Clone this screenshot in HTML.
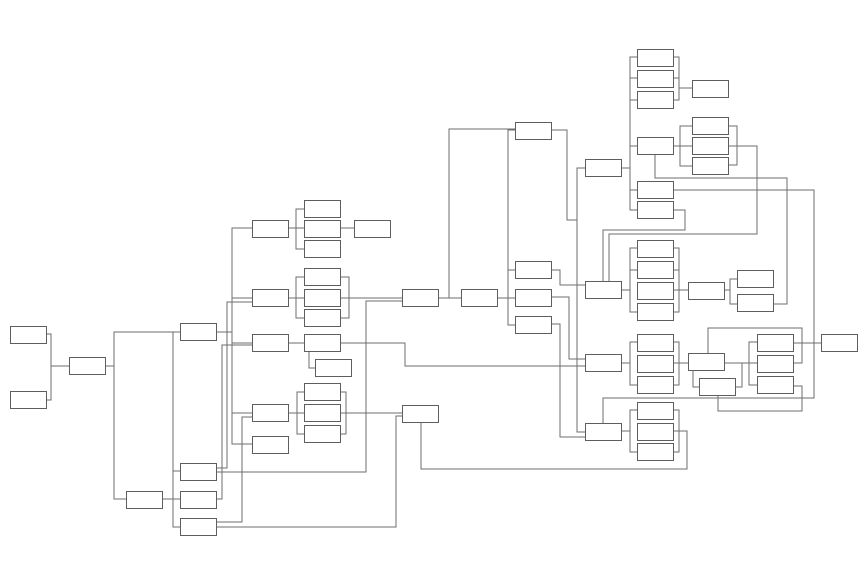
<!DOCTYPE html>
<html><head><meta charset="utf-8"><style>html,body{margin:0;padding:0;background:#fff}svg{display:block}</style></head>
<body>
<svg width="868" height="567" viewBox="0 0 868 567" xmlns="http://www.w3.org/2000/svg">
<g fill="none" stroke="#6e6e6e" stroke-width="1">
<polyline points="47,334 51,334 51,400 47,400"/>
<line x1="51" y1="366" x2="69" y2="366"/>
<line x1="106" y1="366" x2="114" y2="366"/>
<polyline points="180,332 114,332 114,499 126,499"/>
<line x1="163" y1="499" x2="180" y2="499"/>
<polyline points="180,332 173,332 173,527 180,527"/>
<line x1="173" y1="471" x2="180" y2="471"/>
<line x1="217" y1="332" x2="232" y2="332"/>
<polyline points="252,228 232,228 232,444 252,444"/>
<line x1="232" y1="298" x2="252" y2="298"/>
<line x1="232" y1="343" x2="252" y2="343"/>
<line x1="232" y1="413" x2="252" y2="413"/>
<polyline points="217,468 227,468 227,302 252,302"/>
<polyline points="217,472 366,472 366,301 402,301"/>
<polyline points="217,499 222,499 222,345 252,345"/>
<polyline points="217,522 242,522 242,417 252,417"/>
<polyline points="217,527 396,527 396,416 402,416"/>
<line x1="289" y1="228" x2="304" y2="228"/>
<polyline points="304,209 296,209 296,249 304,249"/>
<line x1="340" y1="228" x2="354" y2="228"/>
<line x1="289" y1="298" x2="304" y2="298"/>
<polyline points="304,277 296,277 296,318 304,318"/>
<polyline points="340,277 349,277 349,318 340,318"/>
<line x1="340" y1="298" x2="402" y2="298"/>
<line x1="289" y1="343" x2="304" y2="343"/>
<polyline points="309,352 309,368 315,368"/>
<polyline points="340,343 405,343 405,366 585,366"/>
<line x1="289" y1="413" x2="304" y2="413"/>
<polyline points="304,392 297,392 297,434 304,434"/>
<polyline points="340,392 346,392 346,434 340,434"/>
<line x1="340" y1="413" x2="402" y2="413"/>
<polyline points="421,422 421,469 687,469 687,431 673,431"/>
<line x1="439" y1="298" x2="461" y2="298"/>
<polyline points="449,298 449,129 515,129"/>
<line x1="498" y1="298" x2="515" y2="298"/>
<polyline points="515,130 508,130 508,325 515,325"/>
<line x1="508" y1="270" x2="515" y2="270"/>
<polyline points="551,130 567,130 567,220 577,220"/>
<polyline points="585,168 577,168 577,432 585,432"/>
<polyline points="551,270 560,270 560,285 585,285"/>
<polyline points="551,297 569,297 569,359 585,359"/>
<polyline points="551,324 560,324 560,437 585,437"/>
<line x1="621" y1="168" x2="630" y2="168"/>
<polyline points="637,57 630,57 630,210 637,210"/>
<line x1="630" y1="78" x2="637" y2="78"/>
<line x1="630" y1="100" x2="637" y2="100"/>
<line x1="630" y1="146" x2="637" y2="146"/>
<line x1="630" y1="190" x2="637" y2="190"/>
<polyline points="673,57 679,57 679,100 673,100"/>
<line x1="673" y1="78" x2="679" y2="78"/>
<line x1="679" y1="88" x2="692" y2="88"/>
<line x1="673" y1="146" x2="692" y2="146"/>
<polyline points="692,126 680,126 680,166 692,166"/>
<polyline points="728,126 737,126 737,165 728,165"/>
<polyline points="728,146 757,146 757,234 609,234 609,281"/>
<polyline points="655,155 655,178 787,178 787,304 773,304"/>
<polyline points="673,190 814,190 814,398 603,398 603,423"/>
<polyline points="673,210 685,210 685,230 603,230 603,281"/>
<line x1="621" y1="290" x2="630" y2="290"/>
<polyline points="637,248 630,248 630,312 637,312"/>
<line x1="630" y1="270" x2="637" y2="270"/>
<polyline points="673,248 679,248 679,312 673,312"/>
<line x1="673" y1="270" x2="679" y2="270"/>
<line x1="673" y1="290" x2="688" y2="290"/>
<line x1="724" y1="290" x2="730" y2="290"/>
<polyline points="737,279 730,279 730,304 737,304"/>
<line x1="621" y1="363" x2="630" y2="363"/>
<polyline points="637,342 630,342 630,385 637,385"/>
<polyline points="673,342 679,342 679,385 673,385"/>
<line x1="673" y1="363" x2="688" y2="363"/>
<polyline points="708,353 708,328 802,328 802,363 793,363"/>
<line x1="724" y1="363" x2="757" y2="363"/>
<polyline points="742,363 742,387 736,387"/>
<polyline points="757,342 749,342 749,385 757,385"/>
<polyline points="693,370 693,387 699,387"/>
<polyline points="718,395 718,411 802,411 802,386 793,386"/>
<line x1="793" y1="343" x2="821" y2="343"/>
<line x1="621" y1="431" x2="630" y2="431"/>
<polyline points="637,410 630,410 630,452 637,452"/>
<polyline points="673,410 679,410 679,452 673,452"/>
</g>
<g fill="#fff" stroke="#5e5e5e" stroke-width="1">
<rect x="10.5" y="326.5" width="36" height="17"/>
<rect x="10.5" y="391.5" width="36" height="17"/>
<rect x="69.5" y="357.5" width="36" height="17"/>
<rect x="180.5" y="323.5" width="36" height="17"/>
<rect x="126.5" y="491.5" width="36" height="17"/>
<rect x="180.5" y="463.5" width="36" height="17"/>
<rect x="180.5" y="491.5" width="36" height="17"/>
<rect x="180.5" y="518.5" width="36" height="17"/>
<rect x="252.5" y="220.5" width="36" height="17"/>
<rect x="252.5" y="289.5" width="36" height="17"/>
<rect x="252.5" y="334.5" width="36" height="17"/>
<rect x="252.5" y="404.5" width="36" height="17"/>
<rect x="252.5" y="436.5" width="36" height="17"/>
<rect x="304.5" y="200.5" width="36" height="17"/>
<rect x="304.5" y="220.5" width="36" height="17"/>
<rect x="304.5" y="240.5" width="36" height="17"/>
<rect x="304.5" y="268.5" width="36" height="17"/>
<rect x="304.5" y="289.5" width="36" height="17"/>
<rect x="304.5" y="309.5" width="36" height="17"/>
<rect x="304.5" y="334.5" width="36" height="17"/>
<rect x="315.5" y="359.5" width="36" height="17"/>
<rect x="304.5" y="383.5" width="36" height="17"/>
<rect x="304.5" y="404.5" width="36" height="17"/>
<rect x="304.5" y="425.5" width="36" height="17"/>
<rect x="354.5" y="220.5" width="36" height="17"/>
<rect x="402.5" y="289.5" width="36" height="17"/>
<rect x="402.5" y="405.5" width="36" height="17"/>
<rect x="461.5" y="289.5" width="36" height="17"/>
<rect x="515.5" y="122.5" width="36" height="17"/>
<rect x="515.5" y="261.5" width="36" height="17"/>
<rect x="515.5" y="289.5" width="36" height="17"/>
<rect x="515.5" y="316.5" width="36" height="17"/>
<rect x="585.5" y="159.5" width="36" height="17"/>
<rect x="585.5" y="281.5" width="36" height="17"/>
<rect x="585.5" y="354.5" width="36" height="17"/>
<rect x="585.5" y="423.5" width="36" height="17"/>
<rect x="637.5" y="49.5" width="36" height="17"/>
<rect x="637.5" y="70.5" width="36" height="17"/>
<rect x="637.5" y="91.5" width="36" height="17"/>
<rect x="637.5" y="137.5" width="36" height="17"/>
<rect x="637.5" y="181.5" width="36" height="17"/>
<rect x="637.5" y="201.5" width="36" height="17"/>
<rect x="637.5" y="240.5" width="36" height="17"/>
<rect x="637.5" y="261.5" width="36" height="17"/>
<rect x="637.5" y="282.5" width="36" height="17"/>
<rect x="637.5" y="303.5" width="36" height="17"/>
<rect x="637.5" y="334.5" width="36" height="17"/>
<rect x="637.5" y="355.5" width="36" height="17"/>
<rect x="637.5" y="376.5" width="36" height="17"/>
<rect x="637.5" y="402.5" width="36" height="17"/>
<rect x="637.5" y="423.5" width="36" height="17"/>
<rect x="637.5" y="443.5" width="36" height="17"/>
<rect x="692.5" y="80.5" width="36" height="17"/>
<rect x="692.5" y="117.5" width="36" height="17"/>
<rect x="692.5" y="137.5" width="36" height="17"/>
<rect x="692.5" y="157.5" width="36" height="17"/>
<rect x="688.5" y="282.5" width="36" height="17"/>
<rect x="737.5" y="270.5" width="36" height="17"/>
<rect x="737.5" y="294.5" width="36" height="17"/>
<rect x="688.5" y="353.5" width="36" height="17"/>
<rect x="699.5" y="378.5" width="36" height="17"/>
<rect x="757.5" y="334.5" width="36" height="17"/>
<rect x="757.5" y="355.5" width="36" height="17"/>
<rect x="757.5" y="376.5" width="36" height="17"/>
<rect x="821.5" y="334.5" width="36" height="17"/>
</g>
</svg>
</body></html>
